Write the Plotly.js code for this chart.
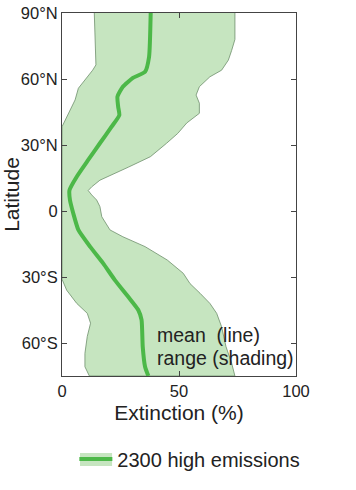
<!DOCTYPE html>
<html>
<head>
<meta charset="utf-8">
<script src="https://cdn.plot.ly/plotly-3.0.1.min.js"></script>
<style>html,body{margin:0;padding:0;background:#fff;}#chart{width:356px;height:490px;}</style>
</head>
<body>
<div id="chart"></div>
<script>
// Mean extinction (line)
const meanLat = [90, 70, 63.3, 60.5, 56.5, 52, 47.4, 43.6, 38.3, 30.8, 23.2, 15.6, 9.5, 5, -1, -8.6, -16.2, -23.8, -31.4, -39, -45, -49.5, -61.7, -70.8, -75];
const meanExt = [37.9, 37.2, 35.5, 30.3, 26, 23.7, 24, 24.5, 21.2, 16.2, 11.2, 6.3, 3.2, 3.4, 4.8, 7, 12, 17.6, 22.6, 28.3, 32.6, 34, 34.5, 35.5, 36.9];

// Range (shading): upper edge, north to south
const upperLat = [90, 78, 73, 68.6, 64, 61, 56.5, 52.7, 49, 44.4, 40, 35.3, 30.8, 24.7, 20, 14, 11, 9.3, 7.3, 5, 2, -2.6, -8.6, -11.7, -16.2, -22.3, -28.3, -33, -37.4, -42, -46.5, -52.6, -61.7, -69.2, -75];
const upperExt = [73.9, 73.9, 72.5, 71.1, 68.2, 63.2, 58.7, 57.3, 58.7, 58.7, 53.3, 49.5, 44.7, 37.8, 28.5, 16.2, 12.7, 11.2, 12.7, 14.8, 16.2, 17, 20.5, 26, 35.5, 45, 51.8, 54.7, 59, 63.2, 66.1, 68.2, 70.1, 72.5, 73.9];
// Range (shading): lower edge, south to north
const lowerLat = [-75, -70.8, -64.7, -57, -51, -46.5, -42, -36, -31, 38.3, 44.4, 50.5, 55.8, 59.5, 64, 66.4, 90];
const lowerExt = [11.7, 9.8, 9.8, 10.8, 12.2, 10.8, 6.3, 2, 0, 0, 2.7, 5.6, 7, 9.8, 13.1, 14.5, 13.8];

const latTickVals = [90, 60, 30, 0, -30, -60];
const latTickText = ['90°N', '60°N', '30°N', '0', '30°S', '60°S'];
const extTickVals = [0, 50, 100];
const seriesName = '2300 high emissions';

const lineGreen = '#4cb848';
const shadeGreen = '#c6e5c0';
const font = 'Liberation Sans, Arial, Helvetica, sans-serif';

const shade = {
  x: upperExt.concat(lowerExt),
  y: upperLat.concat(lowerLat),
  type: 'scatter', mode: 'lines', fill: 'toself',
  fillcolor: shadeGreen,
  line: {color: '#6f8f6c', width: 0.8},
  showlegend: false, hoverinfo: 'skip'
};
const mean = {
  x: meanExt, y: meanLat,
  type: 'scatter', mode: 'lines',
  line: {color: lineGreen, width: 4, shape: 'spline', smoothing: 0.5},
  name: seriesName, showlegend: true
};

const layout = {
  width: 356, height: 490,
  margin: {l: 62, r: 60, t: 13, b: 114, autoexpand: false},
  paper_bgcolor: '#fff', plot_bgcolor: '#fff',
  font: {family: font, color: '#222', size: 16},
  showlegend: true,
  legend: {orientation: 'h', x: 0.0528, xanchor: 'left', y: -0.2287, yanchor: 'middle',
           font: {size: 20, color: '#222'}, bgcolor: 'rgba(0,0,0,0)', itemwidth: 33},
  xaxis: {
    range: [0, 100], tickvals: extTickVals, ticks: 'inside', ticklen: 5, tickcolor: '#444',
    showline: true, linecolor: '#444', linewidth: 1, mirror: 'ticks', showgrid: false, zeroline: false,
    title: {text: 'Extinction (%)', font: {size: 21}, standoff: 6},
    tickfont: {size: 16.5}
  },
  yaxis: {
    range: [-75, 90], tickvals: latTickVals, ticktext: latTickText, ticks: 'inside', ticklen: 5, tickcolor: '#444',
    showline: true, linecolor: '#444', linewidth: 1, mirror: 'ticks', showgrid: false, zeroline: false,
    title: {text: 'Latitude', font: {size: 21}, standoff: 4},
    tickfont: {size: 16.5}
  },
  shapes: [
    {type: 'rect', xref: 'paper', yref: 'paper', x0: 0.0769, x1: 0.214, y0: -0.248, y1: -0.212,
     fillcolor: shadeGreen, line: {width: 0}, layer: 'below'}
  ],
  annotations: [
    {x: 39.7, y: -56.4, xref: 'x', yref: 'y', text: 'mean  (line)', showarrow: false, xanchor: 'left', yanchor: 'middle', font: {size: 19.5, color: '#222'}},
    {x: 39.7, y: -66.8, xref: 'x', yref: 'y', text: 'range (shading)', showarrow: false, xanchor: 'left', yanchor: 'middle', font: {size: 19.5, color: '#222'}}
  ]
};

Plotly.newPlot('chart', [shade, mean], layout, {displayModeBar: false, staticPlot: true});
</script>
</body>
</html>
